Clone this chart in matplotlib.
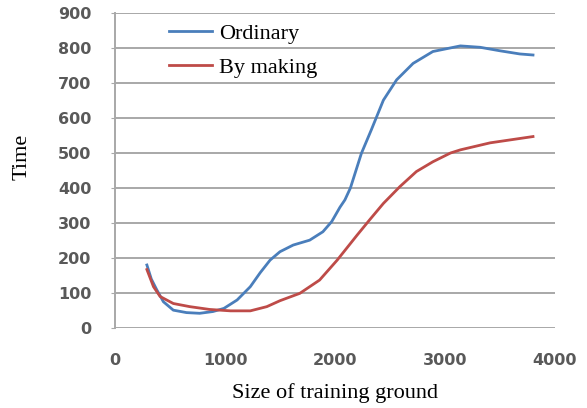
import matplotlib
matplotlib.use("Agg")
import matplotlib.pyplot as plt

# values
size_ordinary = [290, 330, 380, 440, 530, 650, 770, 890, 990, 1110, 1230, 1320,
                 1410, 1500, 1620, 1770, 1890, 1970, 2045, 2090, 2140, 2240, 2330,
                 2440, 2560, 2710, 2890, 3140, 3320, 3500, 3680, 3800]
time_ordinary = [180, 140, 109, 75, 51, 44, 42, 47, 56, 80, 118, 158,
                 194, 218, 237, 251, 275, 304, 345, 366, 400, 499, 566,
                 651, 709, 756, 790, 806, 802, 792, 783, 780]

size_making = [290, 350, 410, 530, 680, 860, 1050, 1230, 1380, 1500, 1680, 1860,
               2020, 2200, 2320, 2440, 2590, 2740, 2890, 3050, 3140, 3410, 3800]
time_making = [167, 118, 90, 70, 61, 53, 49, 49, 61, 78, 99, 137,
               194, 265, 311, 356, 404, 447, 475, 500, 509, 529, 547]

x_ticks = [0, 1000, 2000, 3000, 4000]
y_ticks = [0, 100, 200, 300, 400, 500, 600, 700, 800, 900]

W, H = 587, 408
fig = plt.figure(figsize=(W / 100, H / 100), dpi=100)
ax = fig.add_axes([115 / W, 1 - 328 / H, (555 - 115) / W, (328 - 13) / H])

grid_col = "#a8a8a8"
ax.plot(size_ordinary, time_ordinary, color="#4a7ebb", lw=2.0,
        solid_joinstyle="round", label="Ordinary")
ax.plot(size_making, time_making, color="#be4b48", lw=2.0,
        solid_joinstyle="round", label="By making")

ax.set_xlim(0, 4000)
ax.set_ylim(0, 900)
ax.set_xticks(x_ticks)
ax.set_yticks(y_ticks)
ax.yaxis.grid(True, color=grid_col, lw=1.4)
ax.set_axisbelow(True)
for s in ["top", "right", "bottom"]:
    ax.spines[s].set_visible(False)
ax.spines["left"].set_color(grid_col)
ax.spines["left"].set_linewidth(1.4)

tick_font = dict(family="DejaVu Sans", weight="bold", size=11.5)
ax.tick_params(axis="y", length=3, color=grid_col, pad=14, labelcolor="#595959")
ax.tick_params(axis="x", length=0, pad=18, labelcolor="#595959")
for lab in ax.get_xticklabels() + ax.get_yticklabels():
    lab.set_fontproperties(matplotlib.font_manager.FontProperties(**tick_font))

serif = "Liberation Serif"
fig.text(335 / W, 1 - 393 / H, "Size of training ground", family=serif,
         size=16, ha="center", va="center")
fig.text(22 / W, 1 - 157 / H, "Time", family=serif, size=16,
         rotation=90, ha="center", va="center")

ax.legend(loc="upper left", bbox_to_anchor=(169 / W, 1 - 23 / H),
          bbox_transform=fig.transFigure, frameon=False,
          prop=dict(family=serif, size=16), handlelength=1.95,
          handletextpad=0.32, labelspacing=0.63, borderpad=0, borderaxespad=0)

fig.savefig("out.png", dpi=100)
